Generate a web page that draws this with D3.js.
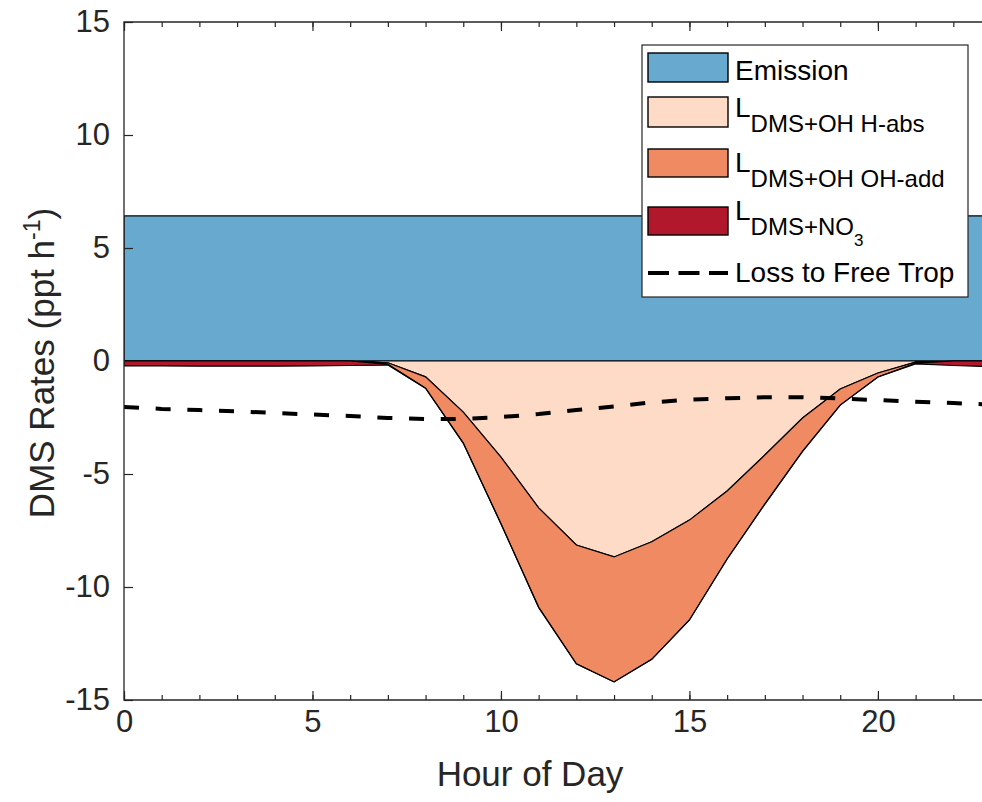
<!DOCTYPE html>
<html>
<head>
<meta charset="utf-8">
<script src="https://cdn.jsdelivr.net/npm/d3@7"></script>
<style>
  html, body { margin: 0; padding: 0; background: #fff; }
  svg { display: block; font-family: "Liberation Sans", Arial, Helvetica, sans-serif; }
</style>
</head>
<body>
<svg id="chart" width="982" height="802"></svg>
<script>
// ---------- data ----------
const hours = [0,1,2,3,4,5,6,7,8,9,10,11,12,13,14,15,16,17,18,19,20,21,22,23];
const emission = [6.42,6.42,6.42,6.42,6.42,6.42,6.42,6.42,6.42,6.42,6.42,6.42,6.42,6.42,6.42,6.42,6.42,6.42,6.42,6.42,6.42,6.42,6.42,6.42];
const lossHabs = [0,0,0,0,0,0,0,0.08,0.7,2.26,4.25,6.5,8.14,8.67,8.0,7.04,5.75,4.16,2.52,1.24,0.53,0.05,0,0];
const lossOHadd = [0,0,0,0,0,0,0,0.07,0.5,1.37,2.95,4.4,5.26,5.53,5.2,4.42,3.01,2.17,1.48,0.71,0.18,0.05,0,0];
const lossNO3 = [0.22,0.22,0.23,0.23,0.23,0.22,0.2,0.03,0,0,0,0,0,0,0,0,0,0,0,0,0,0.03,0.2,0.25];
const lossFreeTrop = [-2.03,-2.12,-2.17,-2.23,-2.3,-2.37,-2.43,-2.52,-2.57,-2.57,-2.48,-2.35,-2.17,-2.01,-1.83,-1.71,-1.65,-1.6,-1.6,-1.66,-1.73,-1.8,-1.86,-1.93];

const yTicks = [-15,-10,-5,0,5,10,15];
const xTicks = [0,5,10,15,20];
const xLabel = "Hour of Day";
const legendNames = ["Emission", "DMS+OH H-abs", "DMS+OH OH-add", "DMS+NO", "Loss to Free Trop"];

// ---------- layout ----------
const svg = d3.select("#chart");
const pLeft = 124, pRight = 991, pTop = 22, pBottom = 700;
const x = d3.scaleLinear().domain([0, 23]).range([pLeft, pRight]);
const y = d3.scaleLinear().domain([-15, 15]).range([pBottom, pTop]);
const axisColor = "#262626";

const colors = { emission: "#67a9cf", habs: "#fddbc7", ohadd: "#ef8a62", no3: "#b2182b" };

// stacked boundaries
const rows = hours.map((h, i) => {
  const b1 = -lossHabs[i];
  const b2 = b1 - lossOHadd[i];
  const b3 = b2 - lossNO3[i];
  return { h, em: emission[i], b1, b2, b3, ft: lossFreeTrop[i] };
});

svg.append("defs").append("clipPath").attr("id", "plotclip")
  .append("rect").attr("x", pLeft).attr("y", pTop).attr("width", pRight - pLeft).attr("height", pBottom - pTop);

const plot = svg.append("g").attr("clip-path", "url(#plotclip)");

function band(y0f, y1f) {
  return d3.area().x(d => x(d.h)).y0(d => y(y0f(d))).y1(d => y(y1f(d)));
}

plot.append("path").datum(rows)
  .attr("d", band(d => 0, d => d.em))
  .attr("fill", colors.emission).attr("stroke", "#000").attr("stroke-width", 1.2);

plot.append("path").datum(rows)
  .attr("d", band(d => 0, d => d.b1))
  .attr("fill", colors.habs).attr("stroke", "#000").attr("stroke-width", 1.2);

plot.append("path").datum(rows)
  .attr("d", band(d => d.b1, d => d.b2))
  .attr("fill", colors.ohadd).attr("stroke", "#000").attr("stroke-width", 1.2);

plot.append("path").datum(rows)
  .attr("d", band(d => d.b2, d => d.b3))
  .attr("fill", colors.no3).attr("stroke", "#000").attr("stroke-width", 1.2);

plot.append("path").datum(rows)
  .attr("d", d3.line().x(d => x(d.h)).y(d => y(d.ft)))
  .attr("fill", "none").attr("stroke", "#000").attr("stroke-width", 4)
  .attr("stroke-dasharray", "15,16.7");

// ---------- axes ----------
const tickFont = 31;

const xAxis = svg.append("g").attr("transform", `translate(0,${pBottom})`)
  .call(d3.axisBottom(x).tickValues(xTicks).tickSize(-9).tickPadding(10).tickFormat(d3.format("d")));
const xMinor = svg.append("g").attr("transform", `translate(0,${pBottom})`)
  .call(d3.axisBottom(x).tickValues(hours).tickSize(-5).tickFormat(""));
const xTopAx = svg.append("g").attr("transform", `translate(0,${pTop})`)
  .call(d3.axisTop(x).tickValues(xTicks).tickSize(-9).tickFormat(""));
const xTopMinor = svg.append("g").attr("transform", `translate(0,${pTop})`)
  .call(d3.axisTop(x).tickValues(hours).tickSize(-5).tickFormat(""));
const yAxis = svg.append("g").attr("transform", `translate(${pLeft},0)`)
  .call(d3.axisLeft(y).tickValues(yTicks).tickSize(-9).tickPadding(14).tickFormat(d3.format("d")));

[xAxis, xMinor, xTopAx, xTopMinor, yAxis].forEach(g => {
  g.select(".domain").remove();
  g.selectAll(".tick line").attr("stroke", axisColor).attr("stroke-width", 1.2);
  g.selectAll(".tick text").attr("fill", axisColor).attr("font-size", tickFont)
    .attr("font-family", "'Liberation Sans', Arial, sans-serif");
});
yAxis.selectAll(".tick text").text(d => d < 0 ? "-" + Math.abs(d) : d);

// box
svg.append("path")
  .attr("d", `M${pRight},${pTop}H${pLeft}V${pBottom}H${pRight}`)
  .attr("fill", "none").attr("stroke", axisColor).attr("stroke-width", 1.3);

// axis labels
svg.append("text").attr("x", 530).attr("y", 786)
  .attr("text-anchor", "middle").attr("font-size", 35).attr("fill", axisColor)
  .text(xLabel);

const yl = svg.append("text")
  .attr("transform", `translate(54,${y(0) + 2}) rotate(-90)`)
  .attr("text-anchor", "middle").attr("font-size", 35).attr("fill", axisColor);
yl.append("tspan").text("DMS Rates (ppt h");
yl.append("tspan").attr("font-size", 23).attr("dy", -14).text("-1");
yl.append("tspan").attr("dy", 14).text(")");

// ---------- legend ----------
const lg = svg.append("g");
lg.append("rect").attr("x", 642).attr("y", 45).attr("width", 326).attr("height", 252)
  .attr("fill", "#fff").attr("stroke", axisColor).attr("stroke-width", 1.2);

const patchX = 648, patchW = 80, textX = 735, lf = 28, sf = 24;
const patches = [
  { c: colors.emission, y0: 53, y1: 82 },
  { c: colors.habs, y0: 97, y1: 127 },
  { c: colors.ohadd, y0: 149, y1: 177 },
  { c: colors.no3, y0: 207, y1: 235 }
];
patches.forEach(p => {
  lg.append("rect").attr("x", patchX).attr("y", p.y0).attr("width", patchW).attr("height", p.y1 - p.y0)
    .attr("fill", p.c).attr("stroke", "#000").attr("stroke-width", 1.4);
});
lg.append("text").attr("x", textX).attr("y", 80).attr("font-size", lf).attr("fill", "#000").text(legendNames[0]);
[[1, 117], [2, 172]].forEach(([k, by]) => {
  const t = lg.append("text").attr("x", textX).attr("y", by).attr("font-size", lf).attr("fill", "#000");
  t.append("tspan").text("L");
  t.append("tspan").attr("font-size", sf).attr("dy", 15).text(legendNames[k]);
});
{
  const t = lg.append("text").attr("x", textX).attr("y", 220).attr("font-size", lf).attr("fill", "#000");
  t.append("tspan").text("L");
  t.append("tspan").attr("font-size", sf).attr("dy", 15).text(legendNames[3]);
  t.append("tspan").attr("font-size", 17).attr("dy", 11).text("3");
}
lg.append("line").attr("x1", patchX).attr("x2", patchX + patchW).attr("y1", 273).attr("y2", 273)
  .attr("stroke", "#000").attr("stroke-width", 4).attr("stroke-dasharray", "21,9.5");
lg.append("text").attr("x", textX).attr("y", 282).attr("font-size", lf).attr("fill", "#000").text(legendNames[4]);
</script>
</body>
</html>
